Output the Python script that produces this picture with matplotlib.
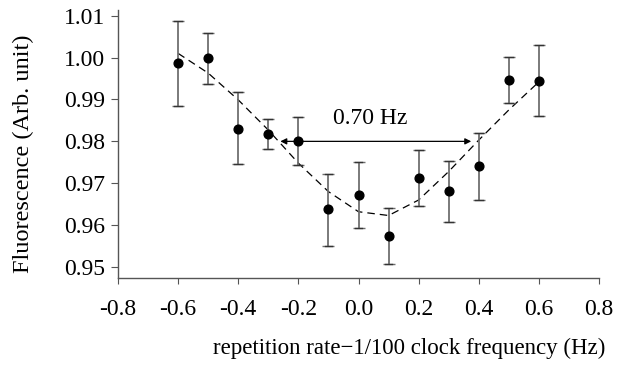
import matplotlib
matplotlib.use("Agg")
import matplotlib.pyplot as plt
import numpy as np

# measured points
freq = [-0.6, -0.5, -0.4, -0.3, -0.2, -0.1, 0.0, 0.1, 0.2, 0.3, 0.4, 0.5, 0.6]
fluor = [0.9986, 0.9998, 0.9830, 0.9818, 0.9802, 0.9638, 0.9672,
         0.9573, 0.9713, 0.9681, 0.9741, 0.9947, 0.9944]
err_hi = [1.0087, 1.0058, 0.9917, 0.9853, 0.9858, 0.9722, 0.9751,
          0.9640, 0.9780, 0.9754, 0.9821, 1.0001, 1.0029]
err_lo = [0.9885, 0.9938, 0.9745, 0.9782, 0.9744, 0.9551, 0.9593,
          0.9507, 0.9646, 0.9608, 0.9660, 0.9892, 0.9860]

# fitted curve (dashed)
fit = [1.0010, 0.9963, 0.9899, 0.9827, 0.9748, 0.9680, 0.9632,
       0.9623, 0.9660, 0.9728, 0.9803, 0.9875, 0.9942]

# width marker
width_left, width_right, width_level = -0.26, 0.375, 0.980
width_text = "0.70 Hz"

xticks = [-0.8, -0.6, -0.4, -0.2, 0.0, 0.2, 0.4, 0.6, 0.8]
yticks = [0.95, 0.96, 0.97, 0.98, 0.99, 1.00, 1.01]

plt.rcParams['font.family'] = ['Liberation Serif', 'DejaVu Serif']

fig = plt.figure(figsize=(6.26, 3.65), dpi=100)
ax = fig.add_axes([118 / 626, 1 - 277.7 / 365, (599 - 118) / 626, (277.7 - 10) / 365])

f = np.array(fluor)
yerr = [f - np.array(err_lo), np.array(err_hi) - f]

ax.plot(freq, fit, color='black', lw=0.9, dashes=(6, 4))
ax.errorbar(freq, fluor, yerr=yerr, fmt='none', ecolor='#707070', elinewidth=1.3,
            capsize=4, capthick=1.0)
# darker caps
for x, lo, hi in zip(freq, err_lo, err_hi):
    ax.plot([x - 0.013, x + 0.013], [lo, lo], color='#333333', lw=1.0)
    ax.plot([x - 0.013, x + 0.013], [hi, hi], color='#333333', lw=1.0)
ax.plot(freq, fluor, 'o', color='black', ms=6.3)

ax.annotate('', xy=(width_right, width_level), xytext=(width_left, width_level),
            arrowprops=dict(arrowstyle='<|-|>', color='black', lw=0.9,
                            mutation_scale=9, shrinkA=0, shrinkB=0))
ax.text(0.04, 0.98557, width_text, ha='center', va='center', fontsize=17)

ax.set_xlim(-0.8, 0.8)
ax.set_ylim(0.94745, 1.01136)
ax.set_xticks(xticks)
ax.set_xticklabels(['%.1f' % v for v in xticks])
ax.set_yticks(yticks)
ax.set_yticklabels(['%.2f' % v for v in yticks])

for s in ['top', 'right']:
    ax.spines[s].set_visible(False)
for s in ['left', 'bottom']:
    ax.spines[s].set_color('#555555')
    ax.spines[s].set_linewidth(1.0)
ax.tick_params(axis='both', labelsize=17, color='#555555', direction='out')
ax.tick_params(axis='y', length=5, pad=4)
ax.tick_params(axis='x', length=4, pad=11.5)

fig.text(23 / 626, 1 - 154 / 365, 'Fluorescence (Arb. unit)', rotation=90,
         ha='center', va='center', fontsize=17.5)
fig.text(605 / 626, 1 - 348 / 365, 'repetition rate\u22121/100 clock frequency (Hz)',
         ha='right', va='center', fontsize=16.5)

fig.savefig('out.png', dpi=100)
